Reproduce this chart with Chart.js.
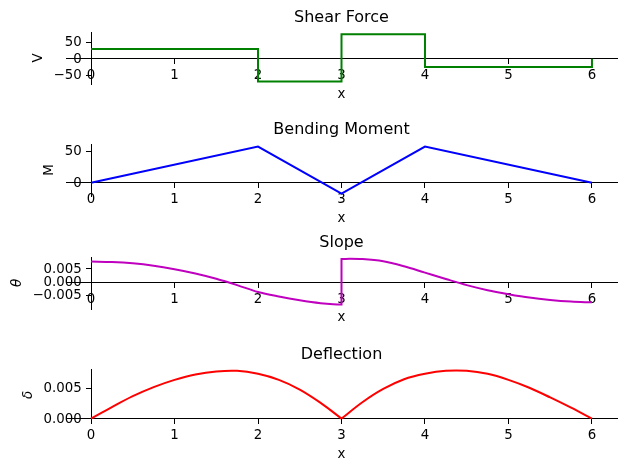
<!DOCTYPE html>
<html>
<head>
<meta charset="utf-8">
<script src="https://cdn.jsdelivr.net/npm/chart.js@4/dist/chart.umd.min.js"></script>
<style>
  body { margin: 0; background: #fff; }
  #wrap { position: relative; width: 627px; height: 471px; }
  #wrap canvas { position: absolute; left: 0; }
</style>
</head>
<body>
<div id="wrap">
  <canvas id="shearChart" width="627" height="129" style="top:0px"></canvas>
  <canvas id="momentChart" width="627" height="129" style="top:112px"></canvas>
  <canvas id="slopeChart" width="627" height="129" style="top:225px"></canvas>
  <canvas id="deflChart" width="627" height="129" style="top:337px"></canvas>
</div>
<script>
// x positions along the beam
const xTicks = [0, 1, 2, 3, 4, 5, 6];

// shear force V
const shearX = [0, 2, 2, 3, 3, 4, 4, 6, 6];
const shearV = [30, 30, -70, -70, 75, 75, -25, -25, 0];
const shearTicks = [-50, 0, 50];
const shearTickLabels = ['\u221250', '0', '50'];

// bending moment M
const momentX = [0, 2, 3, 4, 6];
const momentM = [0, 57, -17, 57, 0];
const momentTicks = [0, 50];
const momentTickLabels = ['0', '50'];

// slope theta (jump at x = 3)
const slopeX = [0, 0.25, 0.5, 0.75, 1, 1.25, 1.5, 1.75, 2, 2.25, 2.5, 2.75, 2.9, 3,
  3, 3.1, 3.25, 3.5, 3.75, 4, 4.25, 4.5, 4.75, 5, 5.25, 5.5, 5.75, 6];
const slopeVals = [0.0078, 0.0076, 0.0071, 0.0062, 0.0049, 0.0033, 0.0013, -0.0011, -0.0037,
  -0.0054, -0.0068, -0.0079, -0.0083, -0.0084,
  0.0087, 0.0088, 0.0087, 0.0079, 0.0060, 0.0036, 0.0012, -0.0011, -0.0030, -0.0045,
  -0.0058, -0.0067, -0.0073, -0.0076];
const slopeTicks = [-0.005, 0, 0.005];
const slopeTickLabels = ['\u22120.005', '0.000', '0.005'];

// deflection delta, left and right span
const deflXLeft = [0, 0.25, 0.5, 0.75, 1, 1.25, 1.5, 1.75, 2, 2.25, 2.5, 2.75, 3];
const deflLeft = [0, 0.0019, 0.0037, 0.0052, 0.0064, 0.0073, 0.0078, 0.0079, 0.0074, 0.0064, 0.0048, 0.0026, 0];
const deflXRight = [3, 3.25, 3.5, 3.75, 4, 4.25, 4.5, 4.75, 5, 5.25, 5.5, 5.75, 6];
const deflRight = [0, 0.0027, 0.0049, 0.0065, 0.0074, 0.0079, 0.0079, 0.0074, 0.0064, 0.0051, 0.0035, 0.0018, 0];
const deflTicks = [0, 0.005];
const deflTickLabels = ['0.000', '0.005'];

Chart.defaults.font.family = '"DejaVu Sans", sans-serif';
Chart.defaults.color = '#000';

const TICK_FONT = { size: 13.33 };

// y tick labels and axis labels, placed matplotlib-style
const axisLabels = {
  id: 'axisLabels',
  afterDraw(chart, args, opts) {
    const { ctx, chartArea, scales } = chart;
    const y0 = scales.y.getPixelForValue(0);
    const x0 = scales.x.getPixelForValue(0);
    ctx.save();
    ctx.fillStyle = '#000';
    ctx.font = '13.33px "DejaVu Sans"';
    ctx.textAlign = 'right';
    ctx.textBaseline = 'middle';
    scales.y.ticks.forEach((t, i) => {
      ctx.fillText(opts.tickLabels[i], x0 - 9.3, scales.y.getPixelForValue(t.value) + 0.5);
    });
    ctx.textAlign = 'center';
    ctx.fillText('x', (chartArea.left + chartArea.right) / 2, y0 + 35.7);
    const widest = Math.max(...opts.tickLabels.map(t => ctx.measureText(t).width));
    ctx.font = (opts.italic ? 'italic ' : '') + '13.33px "DejaVu Sans"';
    ctx.translate(x0 - 9.3 - widest - 15, (chartArea.top + chartArea.bottom) / 2);
    ctx.rotate(-Math.PI / 2);
    ctx.fillText(opts.label, 0, 0);
    ctx.restore();
  }
};

function toPoints(xs, ys) {
  return xs.map((x, i) => ({ x, y: ys[i] }));
}

function makePanel(id, title, datasets, yMin, yMax, yTicks, yTickLabels, yLabel, italic) {
  new Chart(document.getElementById(id), {
    type: 'line',
    data: { datasets },
    plugins: [axisLabels],
    options: {
      responsive: false,
      animation: false,
      layout: { padding: { left: 66, right: 10, top: 8.5, bottom: 45 } },
      elements: { point: { radius: 0 }, line: { borderWidth: 2 } },
      scales: {
        x: {
          type: 'linear',
          min: -0.3,
          max: 6.3,
          position: { y: 0 },
          afterBuildTicks: s => { s.ticks = xTicks.map(v => ({ value: v })); },
          ticks: { font: TICK_FONT, padding: 4, maxRotation: 0, callback: v => String(v) },
          grid: { drawOnChartArea: false, drawTicks: true, tickLength: 5, color: '#000' },
          border: { display: true, color: '#000', width: 1 }
        },
        y: {
          type: 'linear',
          min: yMin,
          max: yMax,
          position: { x: 0 },
          afterBuildTicks: s => { s.ticks = yTicks.map(v => ({ value: v })); },
          ticks: { display: false, font: TICK_FONT },
          grid: { drawOnChartArea: false, drawTicks: true, tickLength: 5, color: '#000' },
          border: { display: true, color: '#000', width: 1 }
        }
      },
      plugins: {
        legend: { display: false },
        tooltip: { enabled: false },
        title: {
          display: true,
          text: title,
          font: { size: 16, weight: 'normal' },
          padding: { top: 0, bottom: 4.3 }
        },
        axisLabels: { label: yLabel, tickLabels: yTickLabels, italic }
      }
    }
  });
}

makePanel('shearChart', 'Shear Force', [{
  data: toPoints(shearX, shearV), borderColor: '#008000', tension: 0
}], -77.5, 82, shearTicks, shearTickLabels, 'V', false);

makePanel('momentChart', 'Bending Moment', [{
  data: toPoints(momentX, momentM), borderColor: '#0000ff', tension: 0
}], -20.7, 61, momentTicks, momentTickLabels, 'M', false);

makePanel('slopeChart', 'Slope', [{
  data: toPoints(slopeX, slopeVals), borderColor: '#bf00bf', cubicInterpolationMode: 'monotone'
}], -0.0101, 0.0095, slopeTicks, slopeTickLabels, '\u03b8', true);

makePanel('deflChart', 'Deflection', [
  { data: toPoints(deflXLeft, deflLeft), borderColor: '#ff0000', tension: 0.35 },
  { data: toPoints(deflXRight, deflRight), borderColor: '#ff0000', tension: 0.35 }
], -0.0004, 0.0082, deflTicks, deflTickLabels, '\u03b4', true);
</script>
</body>
</html>
